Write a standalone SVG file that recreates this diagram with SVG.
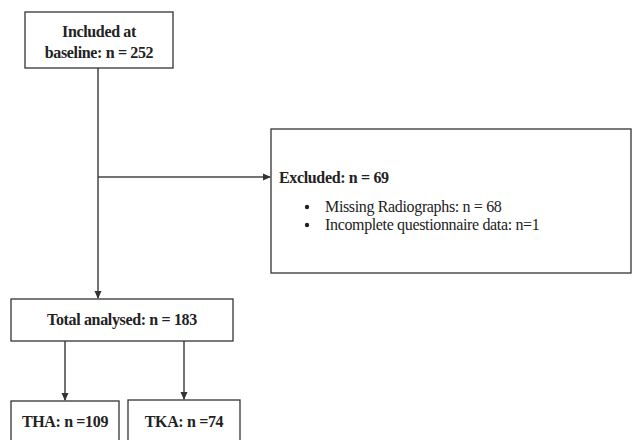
<svg xmlns="http://www.w3.org/2000/svg" width="632" height="440" viewBox="0 0 632 440">
<style>
.box{fill:#fff;stroke:#333;stroke-width:1.3}
.t{font-family:"Liberation Serif",serif;font-size:16px;letter-spacing:-0.35px;fill:#222}
.b{font-weight:bold}
.ln{stroke:#444;stroke-width:1.5;fill:none}
</style>
<defs>
<marker id="ah" markerWidth="8" markerHeight="8" refX="7" refY="4" orient="auto" markerUnits="userSpaceOnUse">
<path d="M0,0.5 L8,4 L0,7.5 z" fill="#333"/>
</marker>
</defs>
<rect width="632" height="440" fill="#fff"/>
<g id="connectors">
<line class="ln" x1="98" y1="68" x2="98" y2="298" marker-end="url(#ah)"/>
<line class="ln" x1="98" y1="177" x2="270" y2="177" marker-end="url(#ah)"/>
<line class="ln" x1="65" y1="341" x2="65" y2="400" marker-end="url(#ah)"/>
<line class="ln" x1="184" y1="341" x2="184" y2="399" marker-end="url(#ah)"/>
</g>
<g id="included">
<rect class="box" x="25" y="12" width="148" height="56"/>
<text class="t b" x="99" y="37" text-anchor="middle">Included at</text>
<text class="t b" x="99" y="58" text-anchor="middle">baseline: n = 252</text>
</g>
<g id="excluded">
<rect class="box" x="271" y="129" width="360" height="144"/>
<text class="t b" x="279" y="183">Excluded: n = 69</text>
<circle cx="307" cy="207" r="2.2" fill="#222"/>
<circle cx="307" cy="225" r="2.2" fill="#222"/>
<text class="t" x="325" y="212">Missing Radiographs: n = 68</text>
<text class="t" x="325" y="230">Incomplete questionnaire data: n=1</text>
</g>
<g id="total">
<rect class="box" x="11" y="299" width="222" height="42"/>
<text class="t b" x="122" y="325" text-anchor="middle">Total analysed: n = 183</text>
</g>
<g id="tha">
<rect class="box" x="11" y="401" width="108" height="45"/>
<text class="t b" x="65" y="427" text-anchor="middle">THA: n =109</text>
</g>
<g id="tka">
<rect class="box" x="128" y="400" width="112" height="46"/>
<text class="t b" x="184" y="427" text-anchor="middle">TKA: n =74</text>
</g>
</svg>
